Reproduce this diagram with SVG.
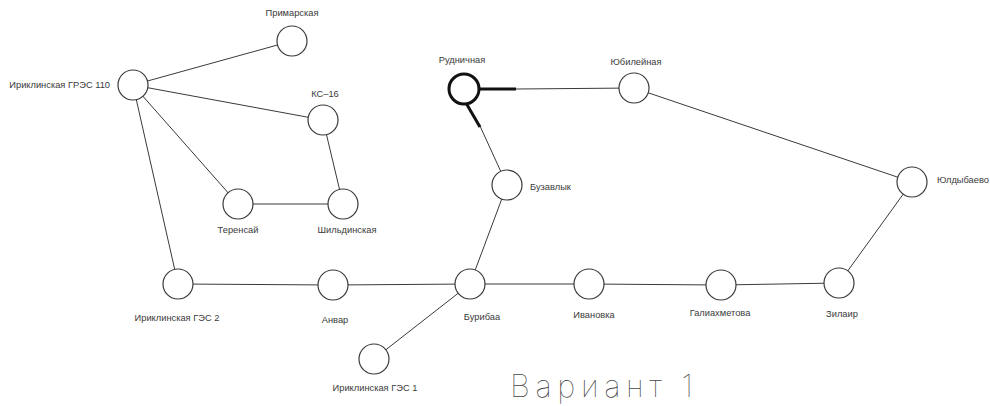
<svg xmlns="http://www.w3.org/2000/svg" width="990" height="406" viewBox="0 0 990 406">
  <style>
    .edge { stroke: #3a3a3a; stroke-width: 1; fill: none; }
    .bold { stroke: #111; stroke-width: 3; fill: none; }
    .node circle { fill: #fff; stroke: #3a3a3a; stroke-width: 1.2; }
    .node.main circle { stroke: #111; stroke-width: 3; }
    .lbl { font-family: "Liberation Sans", Arial, sans-serif; font-size: 9.3px; fill: #3a3a3a; }
    .title { font-family: Inter, "Liberation Sans", sans-serif; font-weight: 100; font-size: 31px; fill: #444; }
  </style>

  <!-- connectors -->
  <g id="connectors">
    <line class="edge" x1="133" y1="85" x2="292" y2="41"/>
    <line class="edge" x1="133" y1="85" x2="323" y2="120"/>
    <line class="edge" x1="133" y1="85" x2="238" y2="204"/>
    <line class="edge" x1="133" y1="85" x2="178" y2="284"/>
    <line class="edge" x1="323" y1="120" x2="343" y2="204"/>
    <line class="edge" x1="238" y1="204" x2="343" y2="204"/>
    <line class="edge" x1="178" y1="284" x2="333" y2="285"/>
    <line class="edge" x1="333" y1="285" x2="470" y2="284"/>
    <line class="edge" x1="470" y1="284" x2="589" y2="284"/>
    <line class="edge" x1="589" y1="284" x2="721" y2="285"/>
    <line class="edge" x1="721" y1="285" x2="839" y2="283"/>
    <line class="edge" x1="839" y1="283" x2="912" y2="182"/>
    <line class="edge" x1="912" y1="182" x2="634" y2="88"/>
    <line class="edge" x1="516" y1="89" x2="634" y2="88"/>
    <line class="edge" x1="480" y1="126" x2="507" y2="185"/>
    <line class="edge" x1="507" y1="185" x2="470" y2="284"/>
    <line class="edge" x1="470" y1="284" x2="374" y2="359"/>
    <!-- heavy stubs leaving Рудничная -->
    <line class="bold" x1="478" y1="89" x2="516" y2="89"/>
    <line class="bold" x1="466" y1="103" x2="480" y2="127"/>
  </g>

  <g id="n-primorskaya" class="node"><circle cx="292" cy="41" r="15"/><text class="lbl" x="292" y="16" text-anchor="middle">Примарская</text></g>
  <g id="n-gres110" class="node"><circle cx="133" cy="85" r="15"/><text class="lbl" x="110" y="88" text-anchor="end">Ириклинская ГРЭС 110</text></g>
  <g id="n-ks16" class="node"><circle cx="323" cy="120" r="15"/><text class="lbl" x="325" y="97" text-anchor="middle">КС–16</text></g>
  <g id="n-terensai" class="node"><circle cx="238" cy="204" r="15"/><text class="lbl" x="238" y="233" text-anchor="middle">Теренсай</text></g>
  <g id="n-shilda" class="node"><circle cx="343" cy="204" r="15"/><text class="lbl" x="347" y="233" text-anchor="middle">Шильдинская</text></g>
  <g id="n-ges2" class="node"><circle cx="178" cy="284" r="15"/><text class="lbl" x="177" y="321" text-anchor="middle">Ириклинская ГЭС 2</text></g>
  <g id="n-anvar" class="node"><circle cx="333" cy="285" r="15"/><text class="lbl" x="335" y="323" text-anchor="middle">Анвар</text></g>
  <g id="n-buribai" class="node"><circle cx="470" cy="284" r="15"/><text class="lbl" x="482" y="320" text-anchor="middle">Бурибаа</text></g>
  <g id="n-ivanovka" class="node"><circle cx="589" cy="284" r="15"/><text class="lbl" x="594" y="318" text-anchor="middle">Ивановка</text></g>
  <g id="n-galiakhmetova" class="node"><circle cx="721" cy="285" r="15"/><text class="lbl" x="720" y="316" text-anchor="middle">Галиахметова</text></g>
  <g id="n-zilair" class="node"><circle cx="839" cy="283" r="15"/><text class="lbl" x="842" y="317" text-anchor="middle">Зилаир</text></g>
  <g id="n-yuldybaevo" class="node"><circle cx="912" cy="182" r="15"/><text class="lbl" x="937" y="183">Юлдыбаево</text></g>
  <g id="n-yubileinaya" class="node"><circle cx="634" cy="88" r="15"/><text class="lbl" x="636" y="65" text-anchor="middle">Юбилейная</text></g>
  <g id="n-rudnichnaya" class="node main"><circle cx="464" cy="89" r="15"/><text class="lbl" x="462" y="63" text-anchor="middle">Рудничная</text></g>
  <g id="n-buzavlyk" class="node"><circle cx="507" cy="185" r="15"/><text class="lbl" x="530" y="190">Бузавлык</text></g>
  <g id="n-ges1" class="node"><circle cx="374" cy="359" r="15"/><text class="lbl" x="375" y="391" text-anchor="middle">Ириклинская ГЭС 1</text></g>

  <text class="title" x="510" y="397" textLength="183" lengthAdjust="spacing">Вариант 1</text>
</svg>
